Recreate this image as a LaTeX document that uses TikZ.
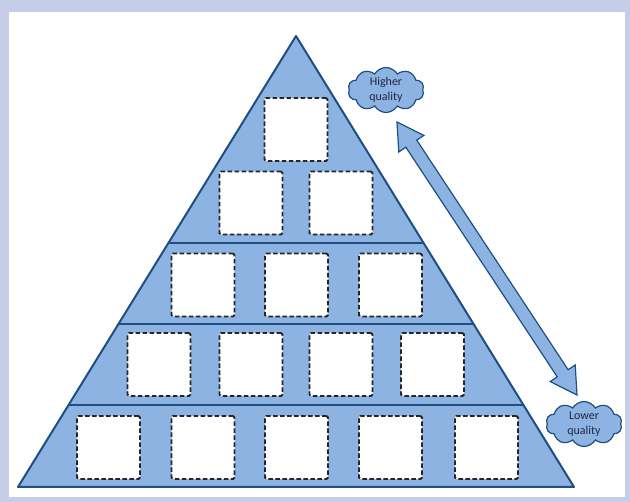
\documentclass[tikz,border=0pt]{standalone}
\usepackage{fontspec}
\setmainfont{Carlito}
\usetikzlibrary{calc,shapes.symbols}
\definecolor{framec}{HTML}{C5CDE8}
\definecolor{pyrfill}{HTML}{8DB3E2}
\definecolor{pyrline}{HTML}{1F4E82}
\definecolor{txtc}{HTML}{1E2A44}
\tikzset{
  slot/.style={draw=black!85, fill=white, line width=1.9pt, dash pattern=on 4.5pt off 2.5pt, rounded corners=1.5pt, minimum width=63pt, minimum height=63pt, inner sep=0pt},
  tier/.style={draw=pyrline, line width=2pt},
  bubble/.style={cloud, cloud puffs=10, cloud puff arc=120, aspect=1.7, draw=pyrline, line width=1.2pt, fill=pyrfill, minimum width=76pt, minimum height=45pt, inner sep=0pt, text=txtc, font=\fontsize{12}{15}\selectfont, align=center},
}
\begin{document}
\begin{tikzpicture}[x=1pt,y=-1pt]
\useasboundingbox (0,0) rectangle (630,502);
\fill[framec] (0,0) rectangle (630,502);
\fill[white] (9,12) rectangle (625,497);
% pyramid
\coordinate (apex) at (296,36);
\coordinate (bl) at (18,487);
\coordinate (br) at (574,487);
\draw[tier, fill=pyrfill, line join=round] (apex) -- (bl) -- (br) -- cycle;
\foreach \t in {0.459,0.6386,0.818}{
  \draw[tier] ($(apex)!\t!(bl)$) -- ($(apex)!\t!(br)$);
}
% slots
\node[slot] (b11) at (296,129.5) {};
\node[slot] (b21) at (251,203) {};
\node[slot] (b22) at (341,203) {};
\node[slot] (b31) at (203,285) {};
\node[slot] (b32) at (296.5,285) {};
\node[slot] (b33) at (390.5,285) {};
\node[slot] (b41) at (159,364.5) {};
\node[slot] (b42) at (251,364.5) {};
\node[slot] (b43) at (341,364.5) {};
\node[slot] (b44) at (432.5,364.5) {};
\node[slot] (b51) at (108.5,447.5) {};
\node[slot] (b52) at (203,447.5) {};
\node[slot] (b53) at (296.5,447.5) {};
\node[slot] (b54) at (390.5,447.5) {};
\node[slot] (b55) at (486.5,447.5) {};
% double arrow
\begin{scope}[shift={(397,122)}, rotate=-56.6]
\draw[draw=pyrline, line width=1.2pt, fill=pyrfill, line join=miter]
  (0,0) -- (26,15) -- (26,6.5) -- (301,6.5) -- (301,15) -- (327,0)
  -- (301,-15) -- (301,-6.5) -- (26,-6.5) -- (26,-15) -- cycle;
\end{scope}
% clouds
\node[bubble] (hq) at (386,90) {Higher\\quality};
\node[bubble] (lq) at (584,424) {Lower\\quality};
\end{tikzpicture}
\end{document}
